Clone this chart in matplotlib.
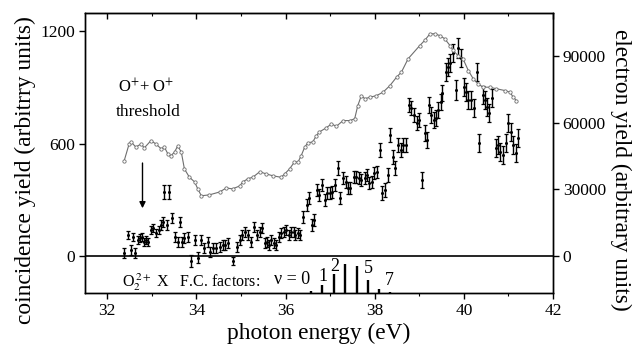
import matplotlib
matplotlib.use("Agg")
import matplotlib.pyplot as plt
from matplotlib.ticker import MultipleLocator

plt.rcParams['font.family'] = ['Liberation Serif', 'DejaVu Serif']
plt.rcParams['mathtext.fontset'] = 'stix'

# ---- electron yield (right axis) ----
e_energy = [32.38, 32.49, 32.53, 32.64, 32.76, 32.83, 32.98, 33.09, 33.21, 33.28,
            33.36, 33.43, 33.51, 33.58, 33.66, 33.73, 33.84, 33.96, 34.03, 34.11,
            34.29, 34.52, 34.67, 34.81, 34.97, 35.04, 35.15, 35.27, 35.42, 35.57,
            35.71, 35.90, 35.98, 36.09, 36.20, 36.28, 36.35, 36.43, 36.50, 36.61,
            36.69, 36.76, 36.91, 37.03, 37.14, 37.29, 37.44, 37.55, 37.62, 37.70,
            37.78, 37.89, 38.04, 38.19, 38.34, 38.49, 38.60, 38.75, 39.01, 39.12,
            39.24, 39.35, 39.46, 39.57, 39.69, 39.76, 39.87, 39.98, 40.10, 40.21,
            40.32, 40.43, 40.58, 40.73, 40.92, 41.03, 41.11, 41.18]
e_yield = [42900, 50400, 51400, 49000, 50400, 48600, 51900, 50400, 48200, 49000,
           45900, 45100, 46800, 49500, 46800, 39200, 35500, 33300, 30200, 27100,
           27500, 28800, 30600, 30200, 31500, 33300, 34700, 35500, 37900, 36900,
           36100, 35400, 36900, 39200, 42300, 42300, 45100, 49000, 50900, 51300,
           54100, 55800, 57600, 59400, 58300, 60900, 60900, 61700, 67600, 72100,
           70700, 71400, 72100, 73700, 76600, 80400, 82700, 88700, 94600, 96900,
           99900, 99900, 99100, 97700, 94600, 92400, 90100, 88700, 83400, 79700,
           77400, 75900, 75900, 75200, 74400, 73700, 71400, 69900]

# ---- coincidence yield (left axis) ----
c_energy = [32.38, 32.46, 32.53, 32.58, 32.63, 32.68, 32.73, 32.79, 32.83, 32.87,
            32.92, 32.98, 33.03, 33.09, 33.15, 33.21, 33.26, 33.28, 33.33, 33.39,
            33.45, 33.53, 33.58, 33.63, 33.68, 33.73, 33.80, 33.88, 33.96, 34.03,
            34.11, 34.18, 34.25, 34.31, 34.37, 34.44, 34.52, 34.59, 34.65, 34.70,
            34.81, 34.91, 34.97, 35.03, 35.08, 35.15, 35.23, 35.30, 35.36, 35.42,
            35.47, 35.53, 35.58, 35.62, 35.68, 35.73, 35.79, 35.85, 35.90, 35.96,
            36.02, 36.07, 36.13, 36.18, 36.22, 36.28, 36.33, 36.40, 36.47, 36.52,
            36.60, 36.63, 36.70, 36.76, 36.82, 36.88, 36.93, 36.99, 37.05, 37.12,
            37.18, 37.23, 37.29, 37.35, 37.40, 37.45, 37.53, 37.59, 37.65, 37.70,
            37.78, 37.83, 37.87, 37.93, 37.98, 38.05, 38.11, 38.17, 38.22, 38.30,
            38.34, 38.40, 38.46, 38.52, 38.58, 38.64, 38.70, 38.77, 38.82, 38.88,
            38.94, 39.00, 39.05, 39.12, 39.18, 39.22, 39.27, 39.33, 39.37, 39.42,
            39.48, 39.52, 39.60, 39.65, 39.70, 39.76, 39.82, 39.87, 39.93, 40.00,
            40.04, 40.10, 40.15, 40.22, 40.29, 40.34, 40.42, 40.48, 40.52, 40.57,
            40.64, 40.72, 40.77, 40.82, 40.88, 40.94, 41.00, 41.05, 41.11, 41.16,
            41.22]
c_yield = [16, 112, 30, 103, 16, 85, 96, 103, 76, 85,
           76, 139, 149, 123, 139, 165, 183, 343, 165, 343,
           201, 103, 76, 183, 76, 94, 103, -27, 85, -8,
           85, 41, 76, 23, 41, 41, 50, 59, 59, 68,
           -27, 50, 85, 112, 130, 112, 76, 156, 112, 130,
           148, 68, 76, 59, 85, 68, 59, 103, 121, 130,
           139, 112, 130, 130, 112, 121, 112, 210, 272, 308,
           165, 192, 352, 325, 379, 299, 334, 334, 343, 379,
           468, 308, 414, 396, 361, 361, 423, 423, 414, 405,
           414, 432, 388, 396, 441, 450, 565, 334, 352, 432,
           645, 530, 468, 592, 565, 592, 592, 805, 788, 752,
           708, 725, 405, 654, 619, 805, 752, 725, 734, 779,
           823, 868, 983, 1010, 1028, 1081, 885, 1108, 1054, 903,
           876, 832, 832, 788, 983, 601, 859, 832, 796, 761,
           841, 574, 592, 556, 539, 601, 708, 663, 592, 548,
           628]
c_error = [27, 21, 27, 21, 27, 21, 21, 21, 21, 21,
           21, 21, 21, 21, 21, 27, 27, 37, 27, 37,
           27, 27, 27, 27, 27, 27, 27, 32, 27, 27,
           27, 27, 27, 27, 27, 27, 27, 27, 27, 27,
           21, 27, 27, 27, 27, 27, 27, 27, 27, 27,
           27, 27, 27, 27, 27, 27, 27, 27, 27, 27,
           27, 27, 27, 27, 27, 27, 27, 32, 32, 32,
           32, 32, 32, 32, 32, 32, 32, 32, 32, 32,
           37, 32, 32, 32, 32, 32, 32, 32, 32, 32,
           32, 32, 32, 32, 32, 32, 37, 37, 37, 37,
           37, 37, 37, 37, 37, 37, 37, 37, 37, 37,
           37, 37, 43, 43, 43, 43, 43, 43, 43, 43,
           43, 43, 48, 48, 48, 48, 53, 53, 48, 48,
           48, 48, 48, 48, 48, 48, 48, 48, 48, 48,
           48, 48, 48, 48, 48, 48, 48, 48, 48, 48,
           48]

# ---- Franck-Condon factors of O2^2+ X ----
fc_v = [0, 1, 2, 3, 4, 5, 6, 7]
fc_energy = [36.56, 36.82, 37.08, 37.34, 37.60, 37.84, 38.09, 38.34]
fc_factor = [0.08, 0.28, 0.65, 1.00, 0.93, 0.45, 0.14, 0.03]
fc_labels = {0: "\u03bd = 0", 1: "1", 2: "2", 5: "5", 7: "7"}

x_ticks = [32, 34, 36, 38, 40, 42]
left_ticks = [0, 600, 1200]
right_ticks = [0, 30000, 60000, 90000]

W, H = 636, 347
fig = plt.figure(figsize=(W / 100, H / 100), dpi=100)
L, R, T, B = 85, 553, 13, 293
ax = fig.add_axes([L / W, 1 - B / H, (R - L) / W, (B - T) / H])

ylo, yhi = -197, 1296
scale = 84.3
ax.set_xlim(31.5, 42)
ax.set_ylim(ylo, yhi)

ax2 = ax.twinx()
ax2.set_ylim(ylo * scale, yhi * scale)

# electron yield curve
ax2.plot(e_energy, e_yield, color='#6e6e6e', lw=0.8, marker='o', ms=2.4,
         mfc='white', mec='#6e6e6e', mew=0.6, zorder=2)

# zero line
ax.axhline(0, color='black', lw=1.2, zorder=3)

# coincidence yield with error bars
ax.errorbar(c_energy, c_yield, yerr=c_error, fmt='o', ms=1.2, color='black',
            ecolor='black', elinewidth=1.0, capsize=1.6, capthick=0.9, zorder=4)

# Franck-Condon sticks
fc_scale = 155
ax.vlines(fc_energy, ylo, [ylo + f * fc_scale for f in fc_factor],
          color='black', lw=1.7, zorder=3)
fc_text_pos = {0: (36.55, -123, 'right'), 1: (36.85, -107, 'center'),
               2: (37.10, -57, 'center'), 5: (37.85, -69, 'center'),
               7: (38.32, -128, 'center')}
for v, lab in fc_labels.items():
    x, y, ha = fc_text_pos[v]
    ax.text(x, y, lab, ha=ha, va='center', fontsize=13)

ax.text(32.34, -139, r"O$_2^{\,2+}$ X   F.C. factors:", ha='left', va='center',
        fontsize=11.5)

# threshold annotation
ax.text(32.88, 901, r"O$^{+}$+ O$^{+}$", ha='center', va='center', fontsize=12)
ax.text(32.92, 768, "threshold", ha='center', va='center', fontsize=12.5)
ax.annotate('', xy=(32.79, 255), xytext=(32.79, 496),
            arrowprops=dict(arrowstyle='-|>', color='black', lw=1.0,
                            mutation_scale=9, shrinkA=0, shrinkB=0))

# ticks
ax.set_xticks(x_ticks)
ax.xaxis.set_minor_locator(MultipleLocator(1))
ax.set_yticks(left_ticks)
ax2.set_yticks(right_ticks)
ax.tick_params(axis='x', which='major', direction='out', length=4, width=1,
               labelsize=12.5, pad=3)
ax.tick_params(axis='x', which='minor', direction='out', length=2.5, width=0.8)
ax.tick_params(axis='y', direction='out', length=4, width=1, labelsize=12.5, pad=3)
ax2.tick_params(axis='y', direction='out', length=4, width=1, labelsize=12.5, pad=3)

top = ax.secondary_xaxis('top')
top.set_xticks(x_ticks)
top.xaxis.set_minor_locator(MultipleLocator(1))
top.tick_params(axis='x', which='major', direction='in', length=4, width=1,
                labeltop=False)
top.tick_params(axis='x', which='minor', direction='in', length=2.5, width=0.8)

for a in (ax, ax2):
    for s in a.spines.values():
        s.set_linewidth(1.0)

fig.text(25 / W, 1 - 170 / H, "coincidence yield (arbitrry units)", rotation=90,
         ha='center', va='center', fontsize=16.8)
fig.text(621 / W, 1 - 170 / H, "electron yield (arbitrary units)", rotation=270,
         ha='center', va='center', fontsize=16.8)
fig.text((L + R) / 2 / W, 1 - 333 / H, "photon energy (eV)", ha='center',
         va='center', fontsize=16.8)

fig.savefig("out.png", dpi=100)
